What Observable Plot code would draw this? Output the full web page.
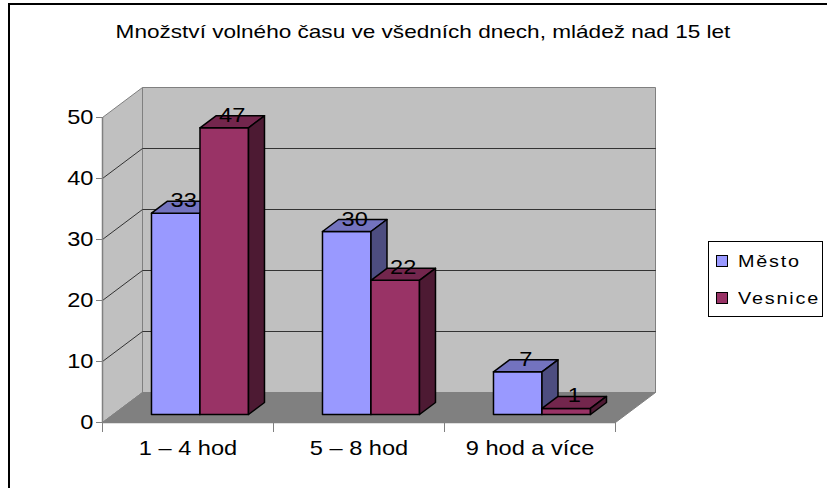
<!DOCTYPE html>
<html><head><meta charset="utf-8">
<script src="https://cdn.jsdelivr.net/npm/d3@7"></script>
<script src="https://cdn.jsdelivr.net/npm/@observablehq/plot@0.6"></script>
<style>
body{margin:0;background:#fff;}
#wrap{position:relative;width:827px;height:488px;overflow:hidden;font-family:Arial,"Liberation Sans",sans-serif;background:#fff;}
#wrap svg{position:absolute;left:0;top:0;}
#frame{position:absolute;left:8px;top:3px;width:900px;height:600px;border-left:2px solid #000;border-top:2px solid #000;box-sizing:border-box;}
#title{position:absolute;left:423px;top:23px;font-size:18.5px;line-height:1;white-space:nowrap;transform:translateX(-50%) scaleX(1.22);color:#000;}
#legend{position:absolute;left:708px;top:241px;width:115px;height:76px;border:1px solid #000;box-sizing:border-box;background:#fff;}
.sw{position:absolute;width:12px;height:12px;border:1px solid #000;box-sizing:border-box;}
.lt{position:absolute;font-size:16.5px;line-height:1;white-space:nowrap;letter-spacing:1.5px;transform-origin:0 0;transform:scaleX(1.2);}
</style></head>
<body><div id="wrap"></div>
<script>
const title = "Množství volného času ve všedních dnech, mládež nad 15 let";
const categories = ["1 – 4 hod", "5 – 8 hod", "9 hod a více"];
const seriesNames = ["Město", "Vesnice"];
const mesto = [33, 30, 7];
const vesnice = [47, 22, 1];
const yTicks = [0, 10, 20, 30, 40, 50];
const frontColors = ["#9999FF", "#993366"];
const topColors = ["#7373BF", "#73264D"];
const sideColors = ["#4D4D80", "#4D1A33"];

const series = [mesto, vesnice];
const yMax = 50;
// oblique projection: full depth shifts 40px right and 30px up
const DXu = 40 / 171;   // in category units
const DYu = 30 / 6.1;   // in value units
const P = (c, v, d) => [c + d * DXu, v + d * DYu];

const polys = [];
function poly(id, fill, pts) {
  pts.concat([pts[0]]).forEach(([x, y]) => polys.push({id, fill, x, y}));
}
const wallRows = [];
function wall(id, fill, pts) {
  pts.concat([pts[0]]).forEach(([x, y]) => wallRows.push({id, fill, x, y}));
}
wall("side", "#C0C0C0", [P(0,0,0), P(0,yMax,0), P(0,yMax,1), P(0,0,1)]);
wall("back", "#C0C0C0", [P(0,0,1), P(3,0,1), P(3,yMax,1), P(0,yMax,1)]);
wall("floor", "#808080", [P(0,0,0), P(3,0,0), P(3,0,1), P(0,0,1)]);

const gridRows = [];
yTicks.filter(t => t > 0 && t < yMax).forEach(t => {
  [P(0,t,0), P(0,t,1), P(3,t,1)].forEach(([x, y]) => gridRows.push({id: t, x, y}));
});

const C0 = 0.2241, W = 48.5 / 171, D0 = 8 / 30, D1 = D0 + 0.4;
const labels = [];
categories.forEach((cat, i) => {
  series.forEach((vals, s) => {
    const v = vals[i];
    const c0 = i + C0 + s * W, c1 = c0 + W;
    const id = `${i}-${s}`;
    poly(id + "f", frontColors[s], [P(c0,0,D0), P(c1,0,D0), P(c1,v,D0), P(c0,v,D0)]);
    poly(id + "t", topColors[s], [P(c0,v,D0), P(c1,v,D0), P(c1,v,D1), P(c0,v,D1)]);
    poly(id + "s", sideColors[s], [P(c1,0,D0), P(c1,0,D1), P(c1,v,D1), P(c1,v,D0)]);
    const [lx, ly] = P(c0 + W / 2, v, (D0 + D1) / 2);
    labels.push({x: lx, y: ly, text: String(v)});
  });
});

const chart = Plot.plot({
  width: 827,
  height: 488,
  marginLeft: 102,
  marginRight: 212,
  marginTop: 117,
  marginBottom: 66,
  style: {fontFamily: "Arial, 'Liberation Sans', sans-serif", background: "transparent", overflow: "visible"},
  x: {domain: [0, 3], axis: null},
  y: {domain: [0, yMax], axis: null},
  color: {type: "identity"},
  marks: [
    Plot.line(wallRows, {x: "x", y: "y", z: "id", fill: "fill", stroke: "#808080", strokeWidth: 1}),
    Plot.line(gridRows, {x: "x", y: "y", z: "id", stroke: "#333", strokeWidth: 1}),
    Plot.ruleX([0], {y1: 0, y2: yMax, stroke: "#808080", strokeWidth: 1.5}),
    Plot.ruleY([0], {x1: 0, x2: 3, stroke: "#808080", strokeWidth: 1.5}),
    Plot.axisY(yTicks, {tickSize: 6, tickPadding: 3, stroke: "#808080", fill: "#000", fontSize: 20, label: null}),
    Plot.axisX([0, 1, 2, 3], {tickSize: 10, tickFormat: () => "", stroke: "#808080", label: null}),
    Plot.text(categories, {x: (d, i) => i + 0.5, y: 0, dy: 26, text: d => d, fontSize: 20, fill: "#000"}),
    Plot.line(polys, {x: "x", y: "y", z: "id", fill: "fill", stroke: "#000", strokeWidth: 1.5, strokeLinejoin: "round"}),
    Plot.text(labels, {x: "x", y: "y", text: "text", fontSize: 20, lineAnchor: "bottom", fill: "#000"})
  ]
});

// widen glyphs horizontally like the original rendering (scale about the text anchor)
const SX = 1.18;
chart.querySelectorAll("text").forEach(t => {
  const tr = t.getAttribute("transform") || "";
  const xa = t.getAttribute("x");
  const x = (xa !== null && /^-?[\d.]+$/.test(xa.trim())) ? +xa : 0;
  t.setAttribute("transform", `${tr} translate(${x},0) scale(${SX},1) translate(${-x},0)`.trim());
});

const wrap = document.getElementById("wrap");
const frame = document.createElement("div"); frame.id = "frame"; wrap.appendChild(frame);
wrap.appendChild(chart);
const tt = document.createElement("div"); tt.id = "title"; tt.textContent = title; wrap.appendChild(tt);
const lg = document.createElement("div"); lg.id = "legend"; wrap.appendChild(lg);
seriesNames.forEach((name, s) => {
  const sw = document.createElement("div"); sw.className = "sw";
  sw.style.left = (716 - 708 - 1) + "px"; sw.style.top = (255 + s * 37 - 241 - 1) + "px";
  sw.style.background = frontColors[s]; lg.appendChild(sw);
  const lt = document.createElement("div"); lt.className = "lt"; lt.textContent = name;
  lt.style.left = (738 - 708 - 1) + "px"; lt.style.top = (253 + s * 37 - 241 - 1) + "px";
  lg.appendChild(lt);
});
</script>
</body></html>
